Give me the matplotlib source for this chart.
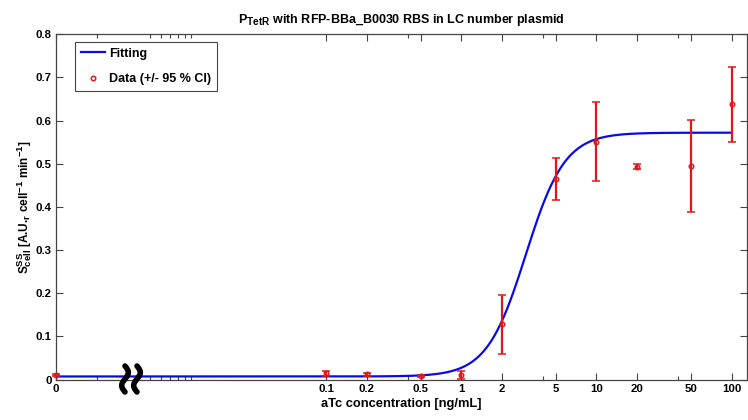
import numpy as np
import matplotlib
matplotlib.use("Agg")
import matplotlib.pyplot as plt
from matplotlib.lines import Line2D
import matplotlib._mathtext as _mt

_mt.SHRINK_FACTOR = 0.8   # larger sub/superscripts, like the reference

# ---- data ----
conc = [0, 0.1, 0.2, 0.5, 1, 2, 5, 10, 20, 50, 100]
means = [0.011, 0.014, 0.012, 0.008, 0.010, 0.128, 0.465, 0.551, 0.493, 0.495, 0.638]
ci95 = [0.002, 0.0065, 0.003, 0.002, 0.009, 0.068, 0.049, 0.091, 0.006, 0.106, 0.087]

# fitted Hill curve parameters (read from the drawn fit)
fit_base = 0.007
fit_top = 0.572
fit_K = 3.0
fit_n = 3.0

zero_pos = 0.001          # where "0" concentration is placed on the log axis
major_ticks = [zero_pos, 0.1, 0.2, 0.5, 1, 2, 5, 10, 20, 50, 100]
major_labels = ["0", "0.1", "0.2", "0.5", "1", "2", "5", "10", "20", "50", "100"]
minor_ticks = [0.002, 0.005, 0.006, 0.007, 0.008, 0.009, 0.01, 0.4, 4, 40]
yticks = [0, 0.1, 0.2, 0.3, 0.4, 0.5, 0.6, 0.7, 0.8]
ylabels = ["0", "0.1", "0.2", "0.3", "0.4", "0.5", "0.6", "0.7", "0.8"]

plt.rcParams['font.family'] = ['Liberation Sans', 'DejaVu Sans']
plt.rcParams['font.weight'] = 'bold'
plt.rcParams['mathtext.fontset'] = 'custom'
plt.rcParams['mathtext.rm'] = 'Liberation Sans:bold'
plt.rcParams['mathtext.bf'] = 'Liberation Sans:bold'
plt.rcParams['mathtext.it'] = 'Liberation Sans:bold'

W, H = 748, 420
fig = plt.figure(figsize=(W / 100, H / 100), dpi=100)
ax = fig.add_axes([56 / W, 1 - 379.5 / H, (747 - 56) / W, (379.5 - 34.3) / H])

xplot = [zero_pos if c == 0 else c for c in conc]

blue = '#0a0ae6'
red = '#e01818'

# fitted curve
xf = np.logspace(np.log10(zero_pos), 2, 600)
yf = fit_base + (fit_top - fit_base) * xf ** fit_n / (fit_K ** fit_n + xf ** fit_n)
ax.plot(xf, yf, color=blue, lw=1.6, zorder=3, label='Fitting')

ax.errorbar(xplot, means, yerr=ci95, fmt='o', ms=3.2, mfc='none', mec=red, mew=1.1,
            ecolor=red, elinewidth=1.6, capsize=3.2, capthick=1.6, zorder=4, clip_on=False)

ax.set_xscale('log')
ax.set_xlim(zero_pos, 130)
ax.set_ylim(0, 0.8)
ax.set_xticks(major_ticks)
ax.set_xticklabels(major_labels)
ax.set_xticks(minor_ticks, minor=True)
ax.xaxis.set_minor_formatter(matplotlib.ticker.NullFormatter())
ax.set_yticks(yticks)
ax.set_yticklabels(ylabels)
ax.yaxis.set_minor_locator(matplotlib.ticker.NullLocator())

ax.tick_params(which='major', direction='in', length=5, width=0.8, color='#444444',
               top=True, right=True, labelsize=8.2, pad=3)
ax.tick_params(which='minor', direction='in', length=3, width=0.8, color='#444444',
               top=True, right=True)
for lab in ax.get_xticklabels() + ax.get_yticklabels():
    lab.set_fontweight('bold')
for s in ax.spines.values():
    s.set_color('#444444')
    s.set_linewidth(0.9)

ax.set_xlabel('aTc concentration [ng/mL]', fontsize=9.3, fontweight='bold', labelpad=3)
ax.set_ylabel(r'S$^{\mathrm{SS}}_{\mathrm{cell}}$ [A.U.$_{\mathrm{r}}$ cell$^{\mathrm{-1}}$ min$^{\mathrm{-1}}$]',
              fontsize=8.5, fontweight='bold', labelpad=1)
ax.set_title(r'P$_{\mathrm{TetR}}$ with RFP-BBa_B0030 RBS in LC number plasmid',
             fontsize=9, fontweight='bold', pad=8)

handles = [Line2D([], [], color=blue, lw=1.6),
           Line2D([], [], ls='none', marker='o', ms=3.2, mfc='none', mec=red, mew=1.1)]
leg = ax.legend(handles, ['Fitting', 'Data (+/- 95 % CI)'], loc='upper left',
                bbox_to_anchor=(0.0275, 0.977), borderaxespad=0, fancybox=False,
                framealpha=1, edgecolor='#444444', prop={'size': 9, 'weight': 'bold'},
                handlelength=1.95, handletextpad=0.35, borderpad=0.45, labelspacing=1.05)
leg.get_frame().set_linewidth(0.8)

# axis break symbol (two squiggles) drawn in figure pixels
t = np.linspace(-1, 1, 80)
for cx in (125, 137):
    px = cx - 3.3 * np.sin(np.pi * t)
    py = 379 + 13 * t
    fig.add_artist(Line2D(px / W, 1 - py / H, transform=fig.transFigure, color='black',
                          lw=4.0, solid_capstyle='round', zorder=10))

fig.savefig('out.png', dpi=100)
